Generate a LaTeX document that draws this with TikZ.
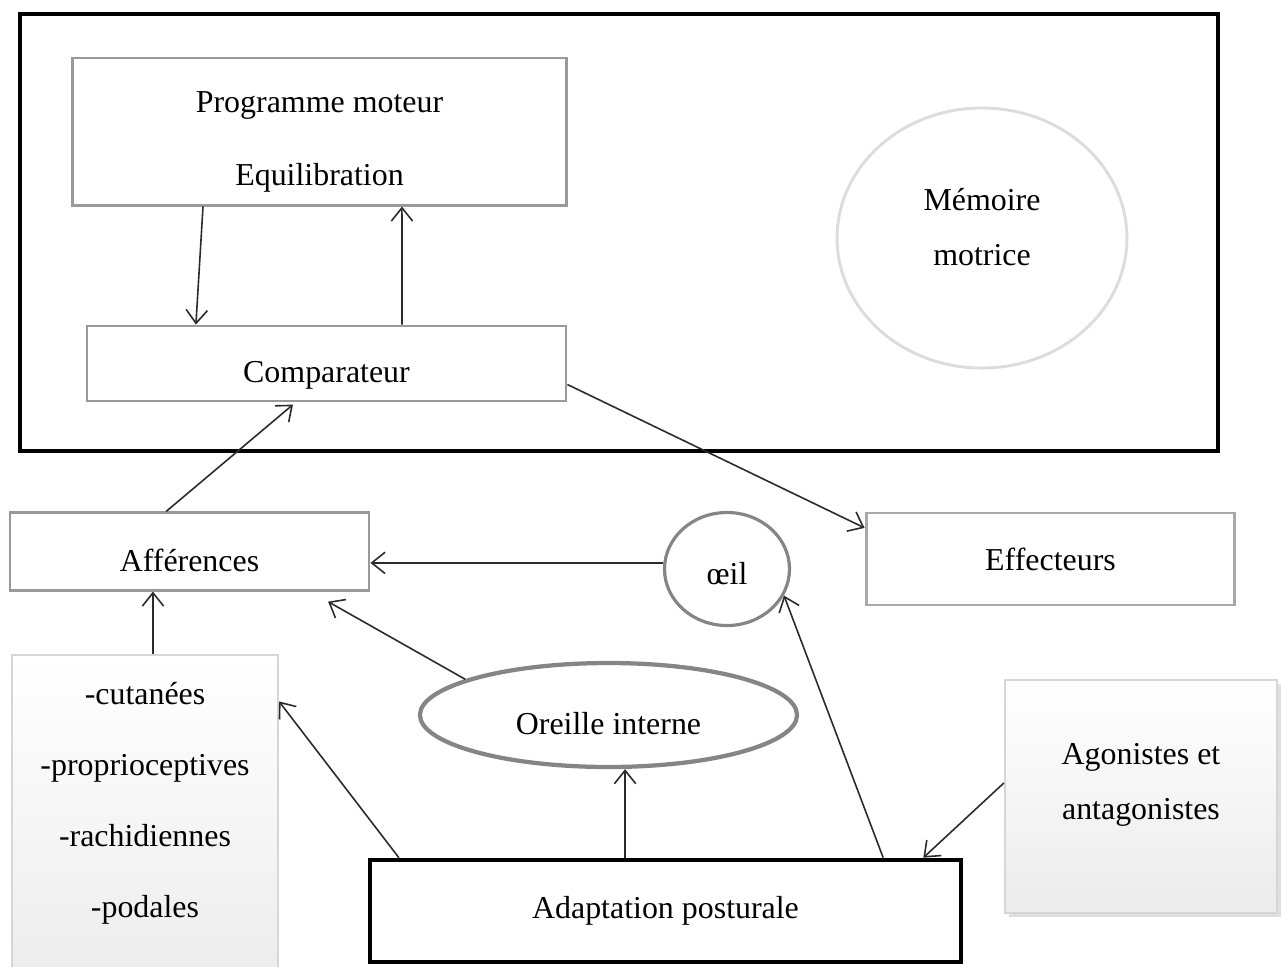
\documentclass[tikz,border=0pt]{standalone}
\usepackage{fontspec}
\setmainfont{Liberation Serif}
\usepackage{tikz}
\usetikzlibrary{arrows.meta,positioning,shapes.geometric,shadows,calc}
\definecolor{cframe}{HTML}{999999}
\definecolor{cframel}{HTML}{A8A8A8}
\definecolor{cring}{HTML}{858585}
\definecolor{cpale}{HTML}{DCDCDC}
\definecolor{cshade}{HTML}{EBEBEB}
\definecolor{cedge}{HTML}{D6D6D6}
\definecolor{cline}{HTML}{2B2B2B}

\begin{document}
\begin{tikzpicture}[
    x=0.376pt, y=-0.376pt,
    txt/.style={font=\fontsize{12}{14.4}\selectfont, align=center, inner sep=0pt},
    box/.style={txt, rectangle, draw=cframe, line width=1.1pt},
    bigbox/.style={txt, rectangle, draw=black, line width=1.7pt},
    oval/.style={txt, ellipse, draw=cring, line width=1.3pt},
    shadebox/.style={txt, rectangle, draw=cedge, line width=0.8pt, top color=white, bottom color=cshade},
    link/.style={-{Straight Barb[length=5pt,width=8pt]}, line width=0.6pt, draw=cline},
]

\path[use as bounding box, clip] (0,0) rectangle (1281,966);

% central frame
\draw[line width=1.7pt] (20,14) rectangle (1218,451);

% upper level: programme, comparateur, memoire
\node[box, minimum width=185.4pt, minimum height=55.3pt, font=\fontsize{12}{27.8}\selectfont] (prog) at (319.5,131.5)
    {\rule{0pt}{15.7pt}Programme moteur\\Equilibration};
\node[box, minimum width=180.1pt, minimum height=28.2pt, text height=16pt, text depth=2pt] (comp) at (326.5,363.5) {Comparateur};
\node[oval, draw=cpale, line width=1.1pt, minimum width=109pt, minimum height=97.8pt, font=\fontsize{12}{21}\selectfont] (mem) at (982,238)
    {Mémoire\\motrice\rule[-8.4pt]{0pt}{1pt}};

% middle level
\node[box, minimum width=135pt, minimum height=29pt, text height=15.2pt, text depth=0pt] (aff) at (189.5,551.5) {Afférences};
\node[oval, line width=1.2pt, minimum width=47pt, minimum height=42.5pt, text height=12pt, text depth=0pt] (oeil) at (727,569) {œil};
\node[box, draw=cframel, minimum width=138.7pt, minimum height=34.6pt] (eff) at (1050.5,559) {Effecteurs};

% lower level
\node[shadebox, minimum width=100pt, minimum height=129.7pt, font=\fontsize{12}{26.7}\selectfont] (sens) at (145,827.5)
    {-cutanées\\-proprioceptives\\-rachidiennes\\-podales\rule[-20.6pt]{0pt}{1pt}};
\node[oval, line width=1.6pt, minimum width=141.8pt, minimum height=39.1pt, text height=15pt, text depth=0pt] (oreille) at (608.5,715) {Oreille interne};
\node[bigbox, minimum width=222.2pt, minimum height=38.4pt] (adapt) at (665.5,911) {Adaptation posturale};
\node[shadebox, drop shadow={shadow xshift=1.5pt, shadow yshift=-1.5pt, opacity=0.25}, minimum width=102.3pt, minimum height=87.6pt,
    font=\fontsize{12}{20.7}\selectfont] (agon) at (1141,796.5)
    {Agonistes et\\antagonistes\rule[-11.6pt]{0pt}{1pt}};

% connectors
\draw[link] ([xshift=-43.8pt]prog.south) -- ([xshift=-49.1pt]comp.north);
\draw[link] ([xshift=28.4pt]comp.north) -- ([xshift=31pt]prog.south);
\draw[link] ([yshift=-7.9pt]comp.east) -- ([yshift=11.7pt]eff.west);
\draw[link] ([xshift=-8.8pt]aff.north) -- ([xshift=-12.6pt, yshift=-0.8pt]comp.south);
\draw[link] ([yshift=2.3pt]oeil.west) -- ([yshift=2.3pt]oeil.west -| aff.east);
\draw[link] ([xshift=3pt]sens.north) -- ([xshift=3pt]sens.north |- aff.south);
\draw[link] (oreille.166) -- ([xshift=52.1pt, yshift=-3.8pt]aff.south);
\draw[link] ([xshift=-15.2pt]adapt.north) -- ([xshift=-15.2pt]adapt.north |- oreille.south);
\draw[link] ([xshift=11.7pt]adapt.north west) -- ([yshift=47.4pt]sens.east);
\draw[link] ([xshift=-30.1pt]adapt.north east) -- (oeil.-25);
\draw[link] ([yshift=5.1pt]agon.west) -- ([xshift=-15pt]adapt.north east);

\end{tikzpicture}
\end{document}
